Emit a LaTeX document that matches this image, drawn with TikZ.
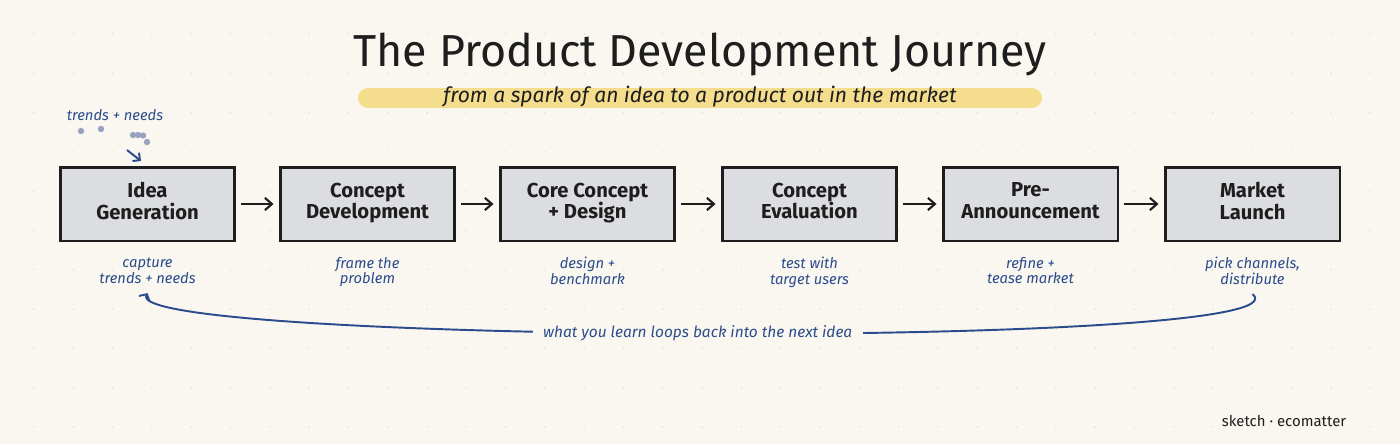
\documentclass[tikz,border=0pt]{standalone}
\usepackage{fontspec}
\setmainfont{Fira Sans}
\usetikzlibrary{arrows.meta}
\definecolor{paper}{HTML}{FAF7F0}
\definecolor{gridgray}{HTML}{E4E0D8}
\definecolor{boxgray}{HTML}{DCDDE0}
\definecolor{inkblue}{HTML}{2B4C8C}
\definecolor{dotblue}{HTML}{9AA3BD}
\definecolor{marker}{HTML}{F5DD8E}
\definecolor{ink}{HTML}{1E1E1E}
\tikzset{
    stage/.style={draw=ink, fill=boxgray, line width=1.7pt,
        minimum width=3.5cm, minimum height=1.48cm, align=center,
        font=\fontsize{11.5}{12.4}\selectfont\bfseries, text=ink,
        execute at begin node={\rule{0pt}{12pt}}, execute at end node=\strut,
        append after command={
            \pgfextra{\draw[white, line width=0.6pt]
                ([shift={(1.6pt,-1.6pt)}]\tikzlastnode.north west) rectangle
                ([shift={(-1.6pt,1.6pt)}]\tikzlastnode.south east);}}},
    note/.style={align=center, text=inkblue,
        font=\fontsize{8.4}{8.8}\selectfont\itshape,
        execute at begin node=\strut, execute at end node=\strut},
    flow/.style={-{Straight Barb[length=4pt,width=7pt]}, line width=1.2pt, draw=ink},
}
\begin{document}
\begin{tikzpicture}[x=0.02cm, y=-0.02cm]
    \fill[paper] (0,0) rectangle (1400,444);
    \useasboundingbox (0,0) rectangle (1400,444);
    \foreach \gx in {0,...,35} {
        \foreach \gy in {0,...,10} {
            \fill[gridgray] (34+39.3*\gx, 34+39.3*\gy) circle (0.9);
        }
    }
    % title
    \node[text=ink, font=\fontsize{25.5}{25.5}\selectfont] (title) at (700,54) {The Product Development Journey};
    \draw[marker, line width=0.4cm, line cap=round] (368,98) -- (1032,98);
    \node[text=ink, font=\fontsize{12}{12}\selectfont\itshape] (subtitle) at (700,97) {from a spark of an idea to a product out in the market};
    % stages
    \node[stage] (s1) at (147.5,204) {Idea\\Generation};
    \node[stage] (s2) at (367.5,204) {Concept\\Development};
    \node[stage] (s3) at (587.5,204) {Core Concept\\+ Design};
    \node[stage] (s4) at (809.5,204) {Concept\\Evaluation};
    \node[stage] (s5) at (1030.5,204) {Pre-\\Announcement};
    \node[stage] (s6) at (1252.5,204) {Market\\Launch};
    \foreach \a/\b in {s1/s2, s2/s3, s3/s4, s4/s5, s5/s6} {
        \draw[flow] ([xshift=0.1cm]\a.east) -- ([xshift=-0.1cm]\b.west);
    }
    % notes under the stages
    \node[note] (n1) at (147.5,273) {capture\\trends + needs};
    \node[note] (n2) at (367.5,273) {frame the\\problem};
    \node[note] (n3) at (587.5,273) {design +\\benchmark};
    \node[note] (n4) at (809.5,273) {test with\\target users};
    \node[note] (n5) at (1030.5,273) {refine +\\tease market};
    \node[note] (n6) at (1252.5,273) {pick channels,\\distribute};
    % feedback loop
    \draw[inkblue, line width=1.1pt, -{Straight Barb[length=3pt,width=7pt]}]
        ([yshift=0.02cm]n6.south) .. controls (1320,350) and (120,344) ..
        node[pos=0.51, fill=paper, inner xsep=6pt, inner ysep=2pt, text=inkblue,
             font=\fontsize{8.8}{8.8}\selectfont\itshape] (loop)
             {what you learn loops back into the next idea}
        ([yshift=0.02cm]n1.south);
    % scattered inputs
    \node[note, execute at begin node=, execute at end node=] (t0) at (115,117) {trends + needs};
    \foreach \px/\py in {81/131, 101/129, 133/135, 138/135, 143/135.5, 147/142} {
        \fill[dotblue] (\px,\py) circle (3.2);
    }
    \coordinate (tail) at (127,150);
    \coordinate (tip) at (141,161);
    \draw[inkblue, line width=1.1pt, -{Straight Barb[length=3pt,width=6pt]}] (tail) -- (tip);
    % footer
    \node[text=ink, font=\fontsize{8.5}{8.5}\selectfont] (credit) at (1284,421) {sketch · ecomatter};
\end{tikzpicture}
\end{document}
